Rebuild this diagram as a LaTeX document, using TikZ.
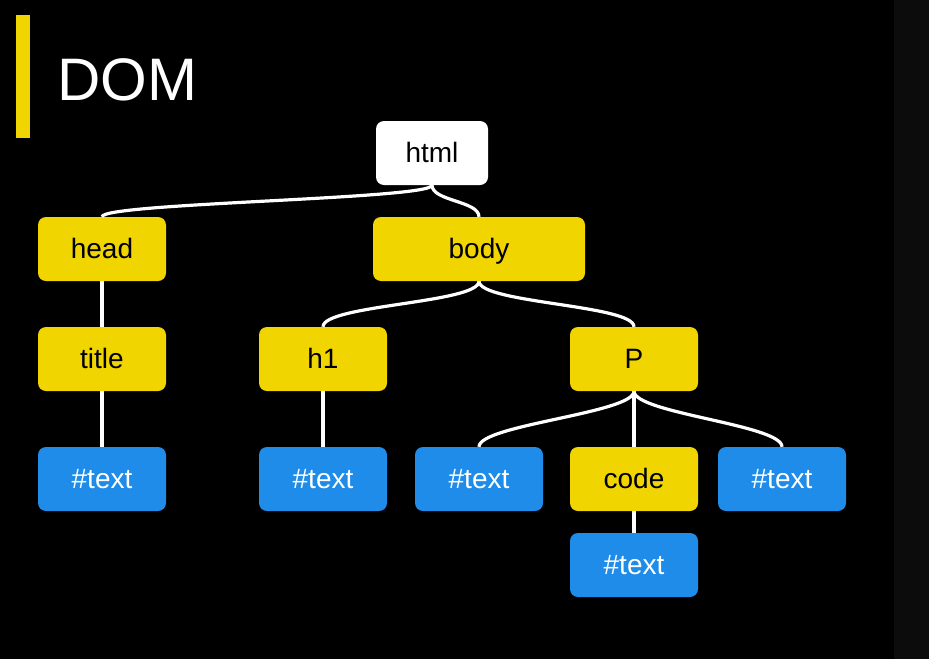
\documentclass[tikz,border=0pt]{standalone}
\usepackage{fontspec}
\setmainfont{Liberation Sans}
\definecolor{domyellow}{HTML}{F0D500}
\definecolor{domblue}{HTML}{1E8CE8}
\definecolor{stripgray}{HTML}{0C0C0C}
\begin{document}
\begin{tikzpicture}[x=1pt,y=-1pt,
  box/.style={rounded corners=8pt, minimum height=64pt, inner sep=0pt,
    font=\fontsize{28}{33}\selectfont, text height=22pt, text depth=4pt},
  ybox/.style={box, fill=domyellow, text=black, minimum width=128pt},
  bbox/.style={box, fill=domblue, text=white, minimum width=128pt},
  wbox/.style={box, fill=white, text=black, minimum width=112pt},
  link/.style={draw=white, line width=3.2pt}]
\useasboundingbox[fill=black] (0,0) rectangle (929,659);
\fill[stripgray] (894,0) rectangle (929,659);
\fill[domyellow] (16,15) rectangle (30,138);
\node[anchor=base west, text=white, inner sep=0pt, font=\fontsize{60}{66}\selectfont] (dom) at (57,100) {DOM};

\node[wbox] (html) at (432,153) {html};
\node[ybox] (head) at (102,249) {head};
\node[ybox, minimum width=212pt] (body) at (479,249) {body};
\node[ybox] (title) at (102,359) {title};
\node[ybox] (h1) at (323,359) {h1};
\node[ybox] (p) at (634,359) {P};
\node[bbox] (t1) at (102,479) {\#text};
\node[bbox] (t2) at (323,479) {\#text};
\node[bbox] (t3) at (479,479) {\#text};
\node[ybox] (code) at (634,479) {code};
\node[bbox] (t4) at (782,479) {\#text};
\node[bbox] (t5) at (634,565) {\#text};

\draw[link] (html.south) .. controls +(0,14) and +(0,-14) .. (head.north);
\draw[link] (html.south) .. controls +(0,16) and +(0,-16) .. (body.north);
\draw[link] (head) -- (title);
\draw[link] (title) -- (t1);
\draw[link] (body.south) .. controls +(0,22) and +(0,-22) .. (h1.north);
\draw[link] (body.south) .. controls +(0,22) and +(0,-22) .. (p.north);
\draw[link] (h1) -- (t2);
\draw[link] (p.south) .. controls +(0,22) and +(0,-22) .. (t3.north);
\draw[link] (p) -- (code);
\draw[link] (p.south) .. controls +(0,22) and +(0,-22) .. (t4.north);
\draw[link] (code) -- (t5);
\end{tikzpicture}
\end{document}
